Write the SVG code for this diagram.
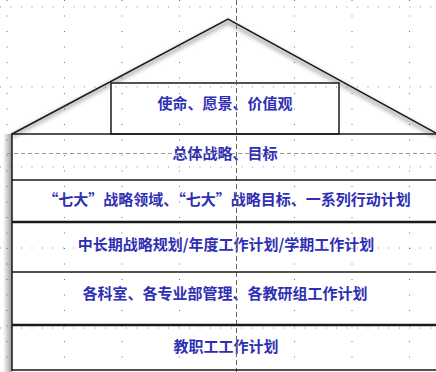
<svg xmlns="http://www.w3.org/2000/svg" width="436" height="372" viewBox="0 0 436 372">
<defs>
<style>
.grid{stroke:#444;stroke-width:1;stroke-dasharray:1 14.5;fill:none;opacity:0.75}
.gridh{stroke:#444;stroke-width:1;stroke-dasharray:1 9.5;fill:none;opacity:0.6}
.guide{stroke:#999;stroke-width:1;stroke-dasharray:4 3;fill:none}
.guidev{stroke:#666;stroke-width:1;stroke-dasharray:5 3;fill:none}
.ln{stroke:#1a1a1a;stroke-width:1.5;fill:none}
.thick{stroke:#1a1a1a;stroke-width:2.5;fill:none}
.box{fill:#fff;stroke:#1a1a1a;stroke-width:1.5}
.t{font-family:"Noto Sans CJK SC","Noto Sans CJK TC",sans-serif;font-size:15px;font-weight:700;fill:#2f2fb4;text-anchor:middle}
</style>
<linearGradient id="sh" x1="0" y1="0" x2="1" y2="0">
<stop offset="0" stop-color="#fff"/>
<stop offset="1" stop-color="#9a9a9a"/>
</linearGradient>
<filter id="blur" x="-10%" y="-10%" width="120%" height="120%"><feGaussianBlur stdDeviation="2"/></filter>
</defs>
<rect width="436" height="372" fill="#fff"/>
<g id="shadow">
<path d="M12 136 L228 22 L436 136" stroke="#999" stroke-width="3" fill="none" filter="url(#blur)"/>
<rect x="3" y="134" width="9" height="238" fill="url(#sh)"/>
</g>
<g id="roof">
<path d="M12 134 L228 19 L436 133" class="ln"/>
</g>
<g id="node-mission">
<rect class="box" x="111" y="83" width="228" height="51"/>
<text class="t" x="225" y="108.5">使命、愿景、价值观</text>
</g>
<g id="node-strategy">
<text class="t" x="225" y="158.5">总体战略、目标</text>
</g>
<g id="node-seven">
<text class="t" x="227" y="204.5">“七大”战略领域、“七大”战略目标、一系列行动计划</text>
</g>
<g id="node-plan">
<text class="t" x="226" y="249.5">中长期战略规划/年度工作计划/学期工作计划</text>
</g>
<g id="node-dept">
<text class="t" x="225" y="298.5">各科室、各专业部管理、各教研组工作计划</text>
</g>
<g id="node-staff">
<text class="t" x="226" y="351.5">教职工工作计划</text>
</g>
<g id="grid">
<path class="grid" d="M7 0V372M64.5 0V372M122 0V372M179.5 0V372M294.5 0V372M352 0V372M409.5 0V372"/>
<path class="gridh" d="M0 7H436M0 87H436M0 167H436M0 248H436M0 328H436"/>
</g>
<g id="guides">
<path class="guide" d="M7 153.5H436"/>
<path class="guidev" d="M236.5 0V372"/>
</g>
<g id="connectors">
<path class="ln" d="M12 134H436M12 133V371M12 180H436M12 370H436M12 272H436"/>
<path class="thick" d="M12 222H436M12 325H436"/>
</g>
</svg>
